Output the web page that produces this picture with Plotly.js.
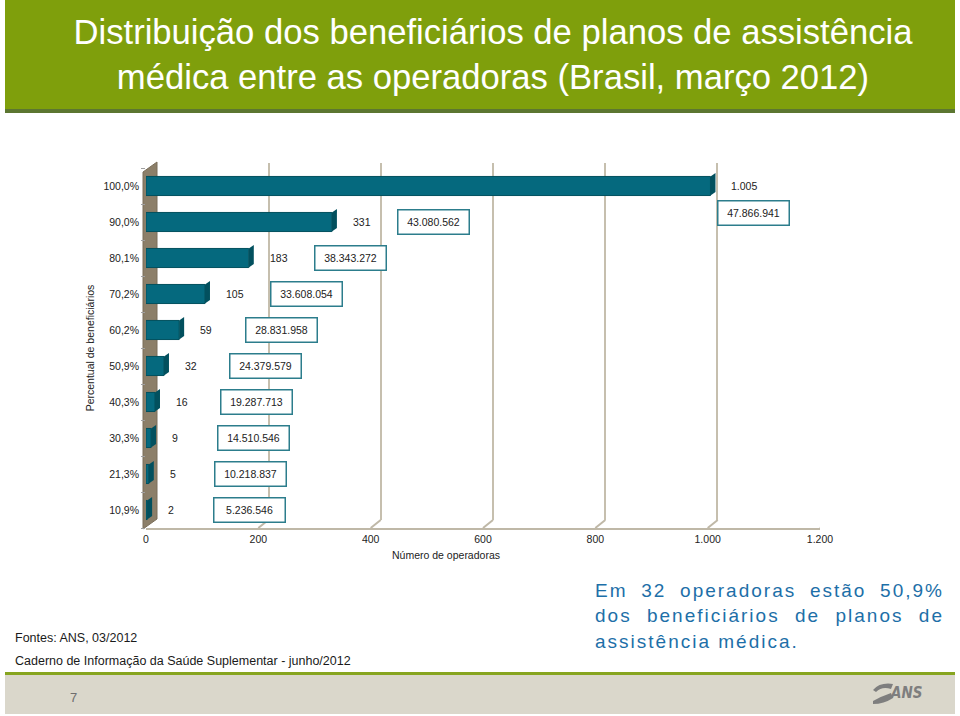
<!DOCTYPE html>
<html>
<head>
<meta charset="utf-8">
<script src="https://cdn.plot.ly/plotly-3.0.1.min.js"></script>
<style>
html,body{margin:0;padding:0;background:#fff;}
#chart{width:960px;height:716px;}
</style>
</head>
<body>
<div id="chart"></div>
<script>
// ---------- DATA ----------
const categories = ['10,9%','21,3%','30,3%','40,3%','50,9%','60,2%','70,2%','80,1%','90,0%','100,0%'];
const operators = [2, 5, 9, 16, 32, 59, 105, 183, 331, 1005];
const beneficiaries = [5236546, 10218837, 14510546, 19287713, 24379579, 28831958, 33608054, 38343272, 43080562, 47866941];
const xTickValues = [0, 200, 400, 600, 800, 1000, 1200];
const xTickLabels = ['0', '200', '400', '600', '800', '1.000', '1.200'];

const titleText = 'Distribuição dos beneficiários de planos de assistência<br>médica entre as operadoras (Brasil, março 2012)';
const xTitle = 'Número de operadoras';
const yTitle = 'Percentual de beneficiários';
const sourceLines = ['Fontes: ANS, 03/2012', 'Caderno de Informação da Saúde Suplementar - junho/2012'];
const noteLines = ['Em 32 operadoras estão 50,9%', 'dos beneficiários de planos de', 'assistência médica.'];
const pageNumber = '7';
const logoText = 'ANS';

// ---------- HELPERS ----------
const W = 960, H = 716;
const px = v => v / W;
const py = v => 1 - v / H;
const fmt = n => String(n).replace(/\B(?=(\d{3})+(?!\d))/g, '.');
const pt = (x, y) => px(x) + ',' + py(y);

const FONT = 'Liberation Sans, Arial, sans-serif';
const TEAL = '#05697E';
const TEAL_DARK = '#02505E';

// ---------- TRACES ----------
const traces = [
  { type: 'scatter', x: [null], y: [null], xaxis: 'x', yaxis: 'y', hoverinfo: 'skip', showlegend: false },
  {
    type: 'bar', orientation: 'h',
    x: operators, y: categories,
    xaxis: 'x2', yaxis: 'y2',
    width: 0.53,
    marker: { color: TEAL, line: { color: TEAL_DARK, width: 1 } },
    hoverinfo: 'skip', showlegend: false
  }
];

// ---------- SHAPES ----------
const shapes = [];
// title band
shapes.push({ type: 'rect', xref: 'paper', yref: 'paper', x0: px(5), x1: px(955), y0: py(0), y1: py(109), fillcolor: '#7F9F0C', line: { width: 0 }, layer: 'below' });
shapes.push({ type: 'rect', xref: 'paper', yref: 'paper', x0: px(5), x1: px(955), y0: py(109), y1: py(113), fillcolor: '#5C7631', line: { width: 0 }, layer: 'below' });
// footer band
shapes.push({ type: 'rect', xref: 'paper', yref: 'paper', x0: px(5), x1: px(955), y0: py(672), y1: py(675), fillcolor: '#87A51F', line: { width: 0 }, layer: 'below' });
shapes.push({ type: 'rect', xref: 'paper', yref: 'paper', x0: px(5), x1: px(955), y0: py(675), y1: py(714), fillcolor: '#DAD7CB', line: { width: 0 }, layer: 'below' });
// 3D side wall
shapes.push({ type: 'path', xref: 'paper', yref: 'paper',
  path: 'M' + pt(143, 529) + 'L' + pt(143, 172) + 'L' + pt(157, 162) + 'L' + pt(157, 519) + 'Z',
  fillcolor: '#8C7F69', line: { color: '#7A6E5A', width: 1 }, layer: 'below' });
// floor diagonals at each tick
xTickValues.forEach(v => {
  if (v === 0) return;
  shapes.push({ type: 'line', xref: 'x2', xsizemode: 'pixel', xanchor: v, x0: 0, x1: 10,
    yref: 'paper', y0: py(528), y1: py(520), line: { color: '#BFB8A7', width: 2 }, layer: 'below' });
});
// 3D bar end caps
operators.forEach((v, i) => {
  shapes.push({ type: 'path', xref: 'x2', yref: 'y2',
    xsizemode: 'pixel', xanchor: v, ysizemode: 'pixel', yanchor: i,
    path: 'M0,-9.5 L0,9.5 L5,13 L5,-6 Z',
    fillcolor: TEAL_DARK, line: { width: 0 }, layer: 'above' });
});
// ANS logo swoosh
shapes.push({ type: 'path', xref: 'paper', yref: 'paper',
  path: 'M' + pt(873, 690) + 'Q' + pt(880, 682) + ' ' + pt(893, 684) + 'L' + pt(891, 689) + 'Q' + pt(882, 686) + ' ' + pt(876, 692) + 'Z',
  fillcolor: '#7E7E7E', line: { width: 0 } });
shapes.push({ type: 'path', xref: 'paper', yref: 'paper',
  path: 'M' + pt(873, 701) + 'Q' + pt(882, 696) + ' ' + pt(891, 693) + 'L' + pt(893, 698) + 'Q' + pt(884, 704) + ' ' + pt(873, 704) + 'Z',
  fillcolor: '#7E7E7E', line: { width: 0 } });

// ---------- ANNOTATIONS ----------
const annotations = [];
operators.forEach((v, i) => {
  annotations.push({ x: v, y: categories[i], xref: 'x2', yref: 'y2', xanchor: 'left', yanchor: 'middle', xshift: 19,
    text: fmt(v), showarrow: false, font: { family: FONT, size: 10.5, color: '#222' } });
  const last = i === operators.length - 1;
  annotations.push({ x: v, y: categories[i], xref: 'x2', yref: 'y2', xanchor: 'center', yanchor: 'middle',
    xshift: last ? 43 : 102, yshift: last ? -27 : 0,
    text: fmt(beneficiaries[i]), showarrow: false,
    font: { family: FONT, size: 10.5, color: '#222' },
    bgcolor: '#ffffff', bordercolor: '#2C7D8C', borderwidth: 1.5, borderpad: 4, width: 62, height: 15 });
});
annotations.push({ x: px(446), y: py(555), xref: 'paper', yref: 'paper', xanchor: 'center', yanchor: 'middle',
  text: xTitle, showarrow: false, font: { family: FONT, size: 10.5, color: '#222' } });
sourceLines.forEach((t, i) => {
  annotations.push({ x: px(13), y: py(638 + i * 23), xref: 'paper', yref: 'paper', xanchor: 'left', yanchor: 'middle', text: t,
    showarrow: false, font: { family: FONT, size: 12.5, color: '#1a1a1a' } });
});
noteLines.forEach((t, i) => {
  annotations.push({ x: px(594), y: py(590 + i * 25.5), xref: 'paper', yref: 'paper', xanchor: 'left', yanchor: 'middle', align: 'left',
    text: t, showarrow: false, borderpad: 0, font: { family: FONT, size: 19, color: '#1D6FA8' } });
});
annotations.push({ x: px(73), y: py(697), xref: 'paper', yref: 'paper', xanchor: 'center', yanchor: 'middle', text: pageNumber, showarrow: false,
  font: { family: FONT, size: 13, color: '#6E6E6E' } });
annotations.push({ x: px(906), y: py(693), xref: 'paper', yref: 'paper', xanchor: 'center', yanchor: 'middle',
  text: '<b><i>' + logoText + '</i></b>', showarrow: false,
  font: { family: 'DejaVu Sans Condensed, Liberation Sans, sans-serif', size: 15, color: '#7E7E7E' } });

// ---------- LAYOUT ----------
const layout = {
  width: W, height: H,
  margin: { l: 0, r: 0, t: 0, b: 0 },
  paper_bgcolor: '#ffffff', plot_bgcolor: 'rgba(0,0,0,0)',
  showlegend: false,
  title: { text: titleText, x: px(493), xanchor: 'center', xref: 'paper', y: py(44), yanchor: 'middle', yref: 'paper',
    font: { family: FONT, size: 35, color: '#ffffff' } },
  // back wall (grid)
  xaxis: { domain: [px(157), px(829)], range: [0, 1200], anchor: 'y', tickvals: xTickValues.slice(1),
    showticklabels: false, ticks: '', showgrid: true, gridcolor: '#C6BFAE', gridwidth: 2, zeroline: false, showline: false, fixedrange: true },
  yaxis: { domain: [py(520), py(163)], range: [0, 1], anchor: 'x', visible: false, fixedrange: true },
  // front (bars)
  xaxis2: { domain: [px(146), px(820)], range: [0, 1200], anchor: 'y2', tickvals: xTickValues, ticktext: xTickLabels,
    ticks: '', showgrid: false, zeroline: false, showline: true, linecolor: '#BFB8A7', linewidth: 2,
    tickfont: { family: FONT, size: 10.5, color: '#222' }, fixedrange: true },
  yaxis2: { domain: [py(528), py(168)], anchor: 'x2', type: 'category', categoryorder: 'array', categoryarray: categories,
    range: [-0.5, 9.5], ticks: 'outside', tickson: 'boundaries', ticklen: 4, tickcolor: '#A0A0A0', tickwidth: 1,
    ticklabelstandoff: 6,
    showgrid: false, showline: false, zeroline: false,
    tickfont: { family: FONT, size: 10.5, color: '#222' },
    title: { text: yTitle, standoff: 6, font: { family: FONT, size: 10.5, color: '#222' } }, fixedrange: true },
  shapes: shapes,
  annotations: annotations
};

Plotly.newPlot('chart', traces, layout, { displayModeBar: false, staticPlot: true }).then(() => {
  // condensed title (Arial Narrow look): scale horizontally to the reference width
  const t = document.querySelector('.gtitle');
  if (t) {
    const bb = t.getBBox();
    const target = 840;
    const s = Math.min(1, target / bb.width);
    const cx = bb.x + bb.width / 2;
    const prev = t.getAttribute('transform') || '';
    t.setAttribute('transform', prev + ' translate(' + cx + ',0) scale(' + s + ',1) translate(' + (-cx) + ',0)');
  }
  // letter spacing + justification of the note paragraph
  const targetWidth = 349;
  document.querySelectorAll('text.annotation-text').forEach(el => {
    const idx = noteLines.indexOf(el.textContent);
    if (idx < 0) return;
    el.style.letterSpacing = '2px';
    if (idx < noteLines.length - 1) {
      const w = el.getComputedTextLength();
      const spaces = (noteLines[idx].match(/ /g) || []).length;
      if (spaces > 0) el.style.wordSpacing = ((targetWidth - w) / spaces) + 'px';
    }
  });
});
</script>
</body>
</html>
